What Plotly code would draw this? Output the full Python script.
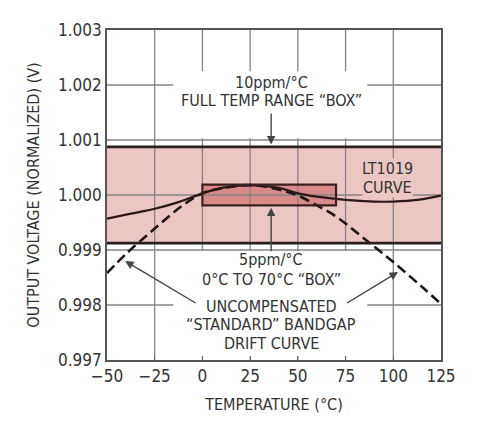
import plotly.graph_objects as go

# ---- data ----
temp_solid = [-50, -37.5, -25, -12.5, 0, 10, 25, 40, 50, 60, 75, 90, 100, 112.5, 125]
lt1019 = [0.99957, 0.99966, 0.99975, 0.99987, 1.00003, 1.00013, 1.00018, 1.00013,
          1.00003, 0.99997, 0.99991, 0.99988, 0.99988, 0.99991, 0.99999]

temp_dash = [-50, -40, -25, -10, 0, 10, 25, 40, 50, 60, 70, 85, 100, 115, 125]
bandgap = [0.99858, 0.99893, 0.99939, 0.99982, 1.00003, 1.00012, 1.00018, 1.00010,
           0.99999, 0.99981, 0.99961, 0.99920, 0.99878, 0.99833, 0.99802]

full_box_x = [-50, 125]
full_box_y = [0.999125, 1.000875]
small_box_x = [0, 70]
small_box_y = [0.99981, 1.00019]

x_ticks = [-50, -25, 0, 25, 50, 75, 100, 125]
y_ticks = [0.997, 0.998, 0.999, 1.000, 1.001, 1.002, 1.003]

top_lines = ["10ppm/°C", "FULL TEMP RANGE “BOX”"]
top_y = [1.00205, 1.00171]
curve_lines = ["LT1019", "CURVE"]
curve_y = [1.000475, 1.000134]
lower_lines = ["5ppm/°C", "0°C TO 70°C “BOX”", "UNCOMPENSATED", "“STANDARD” BANDGAP", "DRIFT CURVE"]
lower_y = [0.99883, 0.99846, 0.99797, 0.99764, 0.99730]

FONT = "DejaVu Sans Condensed, Liberation Sans, Arial, sans-serif"
TXT = "#333333"
GRID = "#858585"
PINK = "#ecc6c2"

fig = go.Figure()

fig.add_trace(go.Scatter(x=temp_dash, y=bandgap, mode="lines",
                         line=dict(color="#1e1414", width=2.6, dash="10px,5px", shape="spline"),
                         showlegend=False, hoverinfo="skip"))
fig.add_trace(go.Scatter(x=temp_solid, y=lt1019, mode="lines",
                         line=dict(color="#2a1818", width=2.2, shape="spline"),
                         showlegend=False, hoverinfo="skip"))

shapes = []
shapes.append(dict(type="rect", xref="x", yref="y", layer="below",
                   x0=full_box_x[0], x1=full_box_x[1], y0=full_box_y[0], y1=full_box_y[1],
                   fillcolor=PINK, line=dict(width=0)))
shapes.append(dict(type="rect", xref="x", yref="y", layer="below",
                   x0=small_box_x[0], x1=small_box_x[1], y0=small_box_y[0], y1=small_box_y[1],
                   fillcolor="#d98a89", line=dict(width=0)))
for xv in x_ticks[1:-1]:
    shapes.append(dict(type="line", xref="x", yref="y", layer="below",
                       x0=xv, x1=xv, y0=y_ticks[0], y1=y_ticks[-1],
                       line=dict(color=GRID, width=1.3)))
for yv in y_ticks[1:-1]:
    shapes.append(dict(type="line", xref="x", yref="y", layer="below",
                       x0=x_ticks[0], x1=x_ticks[-1], y0=yv, y1=yv,
                       line=dict(color=GRID, width=1.3)))
# white masks where the grid is interrupted around the labels
shapes.append(dict(type="rect", xref="x", yref="y", layer="below",
                   x0=-15.3, x1=86.4, y0=1.00103, y1=1.00225,
                   fillcolor="white", line=dict(width=0)))
shapes.append(dict(type="rect", xref="x", yref="y", layer="below",
                   x0=-15.3, x1=86.4, y0=0.99707, y1=0.99898,
                   fillcolor="white", line=dict(width=0)))
# box borders
for yv in full_box_y:
    shapes.append(dict(type="line", xref="x", yref="y", layer="above",
                       x0=full_box_x[0], x1=full_box_x[1], y0=yv, y1=yv,
                       line=dict(color="#2a2020", width=2.6)))
shapes.append(dict(type="rect", xref="x", yref="y", layer="above",
                   x0=small_box_x[0], x1=small_box_x[1], y0=small_box_y[0], y1=small_box_y[1],
                   fillcolor="rgba(0,0,0,0)", line=dict(color="#3a2222", width=2.2)))
fig.update_layout(shapes=shapes)

def label(x, y, text, bg=None, size=16):
    d = dict(x=x, y=y, xref="x", yref="y", text=text, showarrow=False,
             font=dict(family=FONT, size=size, color=TXT), borderpad=0)
    if bg:
        d["bgcolor"] = bg
    fig.add_annotation(**d)

for t, yv in zip(top_lines, top_y):
    label(36, yv, t)
for t, yv in zip(curve_lines, curve_y):
    label(97, yv, t, bg=PINK)
for t, yv in zip(lower_lines, lower_y):
    label(36, yv, t)

def arrow(x, y, ax, ay):
    fig.add_annotation(x=x, y=y, ax=ax, ay=ay, xref="x", yref="y", axref="x", ayref="y",
                       text="", showarrow=True, arrowhead=2, arrowsize=1.2, arrowwidth=1.4,
                       arrowcolor="#444444")

arrow(36, 1.00092, 36, 1.00151)
arrow(36, 0.99977, 36, 0.99895)
arrow(-40.5, 0.99880, -2.8, 0.99802)
arrow(102.5, 0.99860, 75.0, 0.99802)

fig.update_xaxes(range=[-50, 125], tickvals=x_ticks, showgrid=False, zeroline=False,
                 showline=True, linecolor="#555555", linewidth=1.6, mirror=True,
                 ticks="inside", ticklen=4, tickcolor="#666666", tickwidth=1.3,
                 tickfont=dict(family=FONT, size=17, color=TXT),
                 title=dict(text="TEMPERATURE (°C)", font=dict(family=FONT, size=16, color=TXT),
                            standoff=14))
fig.update_yaxes(range=[0.997, 1.003], tickvals=y_ticks, tickformat=".3f", showgrid=False,
                 zeroline=False, showline=True, linecolor="#555555", linewidth=1.6, mirror=True,
                 ticks="", tickfont=dict(family=FONT, size=17, color=TXT),
                 title=dict(text="OUTPUT VOLTAGE (NORMALIZED) (V)",
                            font=dict(family=FONT, size=16, color=TXT), standoff=14))

# page body has an 8px margin, so the figure is sized/offset to land the plot where the reference has it
fig.update_layout(width=473, height=415, margin=dict(l=99, r=40, t=17, b=63),
                  plot_bgcolor="white", paper_bgcolor="white", showlegend=False)

fig.write_html("out.html")
